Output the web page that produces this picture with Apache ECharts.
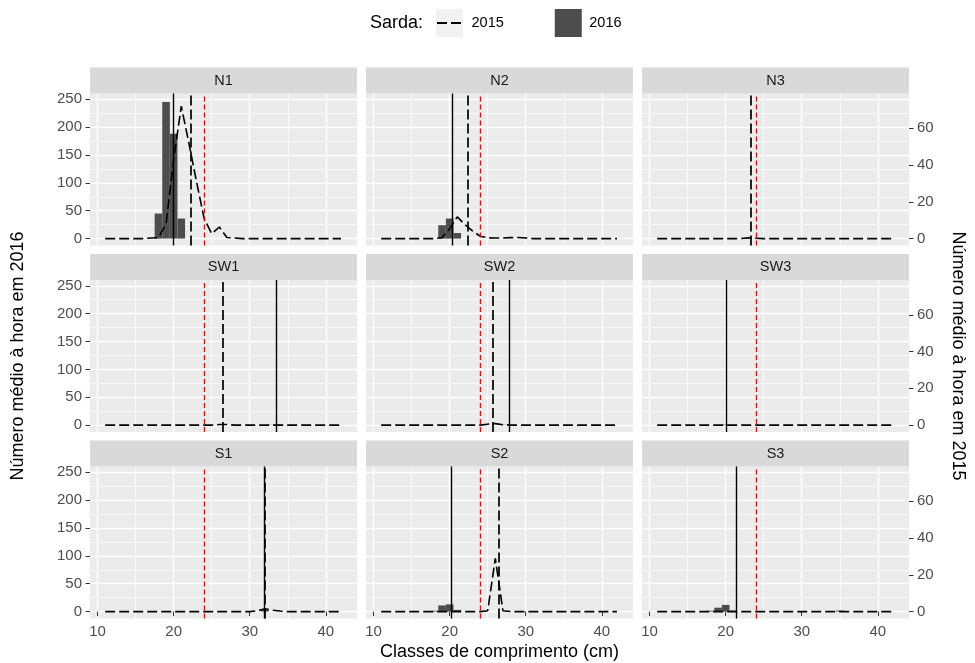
<!DOCTYPE html>
<html>
<head>
<meta charset="utf-8">
<script src="https://cdn.jsdelivr.net/npm/echarts@6.0.0/dist/echarts.min.js"></script>
<style>
  html, body { margin: 0; padding: 0; background: #fff; }
  #chart { width: 975px; height: 663px; }
</style>
</head>
<body>
<div id="chart"></div>
<script>
// -------------------- dados --------------------

// classes de comprimento (cm)
const classes = [11, 12, 13, 14, 15, 16, 17, 18, 19, 20, 21, 22, 23, 24, 25, 26,
                 27, 28, 29, 30, 31, 32, 33, 34, 35, 36, 37, 38, 39, 40, 41, 42]
const panelNames = ['N1', 'N2', 'N3', 'SW1', 'SW2', 'SW3', 'S1', 'S2', 'S3']

// número médio à hora em 2016 (barras, eixo da esquerda)
const n1_2016  = [0, 0, 0, 0, 0, 0, 0, 45,   245, 188, 36, 0, 0, 0, 0, 0,   0, 0, 0, 0, 0, 0, 0, 0,   0, 0, 0, 0, 0, 0, 0, 0]
const n2_2016  = [0, 0, 0, 0, 0, 0, 0, 0,    24, 36, 10, 0, 0, 0, 0, 0,     0, 0, 0, 0, 0, 0, 0, 0,   0, 0, 0, 0, 0, 0, 0, 0]
const n3_2016  = [0, 0, 0, 0, 0, 0, 0, 0,    0, 0, 0, 0, 0, 0, 0, 0,        0, 0, 0, 0, 0, 0, 0, 0,   0, 0, 0, 0, 0, 0, 0, 0]
const sw1_2016 = [0, 0, 0, 0, 0, 0, 0, 0,    0, 0, 0, 0, 0, 0, 0, 0,        0, 0, 0, 0, 0, 0, 0.5, 0.5, 0, 0, 0, 0, 0, 0, 0, 0]
const sw2_2016 = [0, 0, 0, 0, 0, 0, 0, 0,    0, 0, 0, 0, 0, 0, 0, 0,        0.5, 0.5, 0, 0, 0, 0, 0, 0, 0, 0, 0, 0, 0, 0, 0, 0]
const sw3_2016 = [0, 0, 0, 0, 0, 0, 0, 0,    0, 0.8, 0, 0, 0, 0, 0, 0,      0, 0, 0, 0, 0, 0, 0, 0,   0, 0, 0, 0, 0, 0, 0, 0]
const s1_2016  = [0, 0, 0, 0, 0, 0, 0, 0,    0, 0, 0, 0, 0, 0, 0, 0,        0, 0, 0, 0, 0, 3, 0, 0,   0, 0, 0, 0, 0, 0, 0, 0]
const s2_2016  = [0, 0, 0, 0, 0, 0, 0, 1.5,  11, 13, 3, 0, 0, 0, 0, 0,      0, 0, 0, 0, 0, 0, 0, 0,   0, 0, 0, 0, 0, 0, 0, 0]
const s3_2016  = [0, 0, 0, 0, 0, 0, 0, 1.5,  7, 12, 2, 0, 0, 0, 0, 0,       0, 0, 0, 0, 0, 0, 0, 0,   2, 0, 0, 0, 0, 0, 0, 0]

// número médio à hora em 2015 (linha tracejada, eixo da direita)
const n1_2015  = [0, 0, 0, 0, 0, 0, 0.3, 0.5, 8, 43, 72, 52, 31, 11, 2.7, 6.3, 0.6, 0.3, 0, 0, 0, 0, 0, 0,  0, 0, 0, 0, 0, 0, 0, 0]
const n2_2015  = [0, 0, 0, 0, 0, 0, 0, 0,     0.5, 5.4, 11.8, 7.6, 4.2, 1.3, 0.4, 0.3, 0.3, 0.5, 0.6, 0.3, 0, 0, 0, 0,  0, 0, 0, 0, 0, 0, 0, 0]
const n3_2015  = [0, 0, 0, 0, 0, 0, 0, 0,     0, 0, 0, 0, 0.4, 0.2, 0, 0, 0, 0, 0, 0, 0, 0, 0, 0,  0, 0, 0, 0, 0, 0, 0, 0]
const sw1_2015 = [0, 0, 0, 0, 0, 0, 0, 0,     0, 0, 0, 0, 0, 0, 0, 0.3, 0.3, 0, 0, 0, 0, 0, 0, 0,  0, 0, 0, 0, 0, 0, 0, 0]
const sw2_2015 = [0, 0, 0, 0, 0, 0, 0, 0,     0, 0, 0, 0, 0, 0, 0.5, 0.8, 0.2, 0, 0, 0, 0, 0, 0, 0,  0, 0, 0, 0, 0, 0, 0, 0]
const sw3_2015 = [0, 0, 0, 0, 0, 0, 0, 0,     0, 0, 0, 0, 0, 0, 0, 0, 0, 0, 0, 0, 0, 0, 0, 0,  0, 0, 0, 0, 0, 0, 0, 0]
const s1_2015  = [0, 0, 0, 0, 0, 0, 0, 0,     0, 0, 0, 0, 0, 0, 0, 0, 0, 0, 0, 0, 0.4, 1.5, 0.7, 0.3,  0, 0, 0, 0, 0, 0, 0, 0]
const s2_2015  = [0, 0, 0, 0, 0, 0, 0, 0,     0, 0, 0, 0, 0, 0, 0.5, 29, 0.5, 0, 0, 0, 0, 0, 0, 0,  0, 0, 0, 0, 0, 0, 0, 0]
const s3_2015  = [0, 0, 0, 0, 0, 0, 0, 0,     0, 0, 0, 0, 0, 0, 0, 0, 0, 0, 0, 0, 0, 0, 0, 0,  0, 0, 0, 0, 0, 0, 0, 0]

const sarda2016 = [n1_2016, n2_2016, n3_2016, sw1_2016, sw2_2016, sw3_2016, s1_2016, s2_2016, s3_2016]
const sarda2015 = [n1_2015, n2_2015, n3_2015, sw1_2015, sw2_2015, sw3_2015, s1_2015, s2_2015, s3_2015]

// linhas verticais: médias por ano e tamanho mínimo
const media2016 = [19.9, 20.4, null, 33.5, 27.8, 20.1, 31.9, 20.2, 21.4]
const media2015 = [22.2, 22.4, 23.3, 26.5, 25.7, null, 32.0, 26.5, null]
const tamanhoMinimo = 24

// eixos
const xTicks = [10, 20, 30, 40]
const xMinor = [15, 25, 35]
const yLeftTicks = [0, 50, 100, 150, 200, 250]
const yLeftMinor = [25, 75, 125, 175, 225]
const yRightTicks = [0, 20, 40, 60]

// -------------------- layout --------------------

const colLeft = [90, 366, 642]
const rowTop = [93.5, 280, 466.5]
const panelW = 267
const panelH = 152
const stripH = 26
const xRange = [9.0, 44.1]
const yLeftRange = [-12.4, 260.4]
const secFactor = 3.3
const yRightRange = [yLeftRange[0] / secFactor, yLeftRange[1] / secFactor]

const font = 'Liberation Sans, Arial, sans-serif'
const tickText = { color: '#4d4d4d', fontSize: 15, fontFamily: font }
const titleText = { color: '#000', fontSize: 18, fontFamily: font }
const dashed = [10, 4]

const grids = []
const xAxes = []
const yAxes = []
const series = []
const graphics = []

// fundo cinzento da chave 2015 na legenda
graphics.push({
  type: 'rect', left: 436, top: 9, z: -1,
  shape: { width: 27, height: 28 },
  style: { fill: '#f2f2f2' }
})

panelNames.forEach((name, i) => {
  const row = Math.floor(i / 3)
  const col = i % 3
  const left = colLeft[col]
  const top = rowTop[row]

  grids.push({
    left: left, top: top, width: panelW, height: panelH,
    show: true, backgroundColor: '#ebebeb', borderWidth: 0,
    containLabel: false, outerBoundsMode: 'none'
  })

  // faixa com o nome do painel
  graphics.push({
    type: 'rect', left: left, top: top - stripH,
    shape: { width: panelW, height: stripH },
    style: { fill: '#d9d9d9' }
  })
  graphics.push({
    type: 'text',
    style: {
      text: name, fill: '#1a1a1a', fontSize: 14.5, fontFamily: font,
      align: 'center', verticalAlign: 'middle'
    },
    x: left + panelW / 2, y: top - stripH / 2
  })

  xAxes.push({
    type: 'value', gridIndex: i,
    min: xRange[0], max: xRange[1], splitNumber: 4,
    axisLine: { show: false },
    axisTick: { show: row === 2, customValues: xTicks, length: 4.5, lineStyle: { color: '#333', width: 1 } },
    axisLabel: Object.assign({ show: row === 2, customValues: xTicks, margin: 6 }, tickText),
    splitLine: { show: true, lineStyle: { color: '#fff', width: 1.4 } },
    name: i === 7 ? 'Classes de comprimento (cm)' : '',
    nameLocation: 'middle', nameGap: 25,
    nameTextStyle: titleText
  })

  yAxes.push({
    type: 'value', gridIndex: i, position: 'left',
    min: yLeftRange[0], max: yLeftRange[1], splitNumber: 5,
    axisLine: { show: false },
    axisTick: { show: col === 0, customValues: yLeftTicks, length: 4.5, lineStyle: { color: '#333', width: 1 } },
    axisLabel: Object.assign({ show: col === 0, customValues: yLeftTicks, margin: 8 }, tickText),
    splitLine: { show: true, lineStyle: { color: '#fff', width: 1.4 } },
    name: i === 3 ? 'Número médio à hora em 2016' : '',
    nameLocation: 'middle', nameGap: 63,
    nameTextStyle: titleText
  })

  yAxes.push({
    type: 'value', gridIndex: i, position: 'right',
    min: yRightRange[0], max: yRightRange[1],
    axisLine: { show: false },
    axisTick: { show: col === 2, customValues: yRightTicks, length: 4.5, lineStyle: { color: '#333', width: 1 } },
    axisLabel: Object.assign({ show: col === 2, customValues: yRightTicks, margin: 8 }, tickText),
    splitLine: { show: false },
    name: i === 5 ? 'Número médio à hora em 2015' : '',
    nameLocation: 'middle', nameGap: 40, nameRotate: -90,
    nameTextStyle: titleText
  })

  // grelha secundária (linhas finas brancas)
  series.push({
    name: 'grelha', type: 'line', data: [],
    xAxisIndex: i, yAxisIndex: 2 * i,
    markLine: {
      silent: true, symbol: ['none', 'none'], z: 1, animation: false,
      label: { show: false },
      lineStyle: { color: '#fff', width: 0.7, type: 'solid' },
      data: xMinor.map(v => ({ xAxis: v })).concat(yLeftMinor.map(v => ({ yAxis: v })))
    }
  })

  // linhas verticais
  const vlines = [
    { xAxis: tamanhoMinimo, lineStyle: { color: '#ff0000', width: 1.4, type: [5, 3] } }
  ]
  if (media2015[i] != null) {
    vlines.push({ xAxis: media2015[i], lineStyle: { color: '#000', width: 1.7, type: dashed } })
  }
  if (media2016[i] != null) {
    vlines.push({ xAxis: media2016[i], lineStyle: { color: '#000', width: 1.4, type: 'solid' } })
  }

  series.push({
    name: '2016', type: 'bar',
    xAxisIndex: i, yAxisIndex: 2 * i,
    data: classes.map((c, j) => [c, sarda2016[i][j]]),
    barWidth: '100%', barCategoryGap: '0%',
    itemStyle: { color: '#4d4d4d' },
    emphasis: { disabled: true },
    z: 2,
    markLine: {
      silent: true, symbol: ['none', 'none'], z: 5, animation: false,
      label: { show: false },
      data: vlines
    }
  })

  series.push({
    name: '2015', type: 'line',
    xAxisIndex: i, yAxisIndex: 2 * i + 1,
    data: classes.map((c, j) => [c, sarda2015[i][j]]),
    symbol: 'none', showSymbol: false,
    lineStyle: { color: '#000', width: 1.6, type: dashed },
    itemStyle: { color: '#000' },
    emphasis: { disabled: true },
    z: 3
  })
})

const chart = echarts.init(document.getElementById('chart'), null, { renderer: 'canvas' })

chart.setOption({
  animation: false,
  textStyle: { fontFamily: font },
  title: {
    text: 'Sarda:', left: 370, top: 14, padding: 0,
    textStyle: { fontSize: 18, fontWeight: 'normal', color: '#000', fontFamily: font }
  },
  legend: {
    left: 436, top: 9, padding: 0,
    itemWidth: 27, itemHeight: 28, itemGap: 51,
    selectedMode: false,
    textStyle: { fontSize: 14.5, color: '#000', fontFamily: font, padding: [0, 0, 0, 2.5] },
    data: [
      { name: '2015', itemStyle: { color: 'rgba(0,0,0,0)', borderWidth: 0 } },
      { name: '2016', icon: 'rect' }
    ]
  },
  grid: grids,
  xAxis: xAxes,
  yAxis: yAxes,
  series: series,
  graphic: graphics
})
</script>
</body>
</html>
